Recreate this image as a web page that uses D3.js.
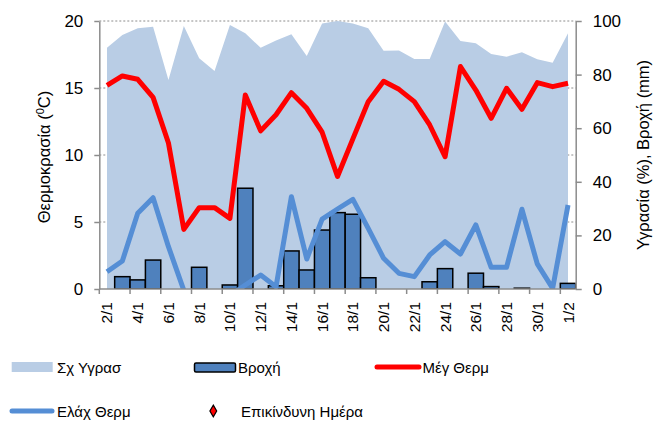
<!DOCTYPE html>
<html><head><meta charset="utf-8">
<script src="https://cdn.jsdelivr.net/npm/d3@7"></script>
<style>
html,body{margin:0;padding:0;background:#fff;}
svg{display:block;font-family:Arial,"Liberation Sans",sans-serif;}
</style></head>
<body><svg id="c" width="654" height="423"></svg>
<script>
const categories = ["2/1","3/1","4/1","5/1","6/1","7/1","8/1","9/1","10/1","11/1","12/1","13/1","14/1","15/1","16/1","17/1","18/1","19/1","20/1","21/1","22/1","23/1","24/1","25/1","26/1","27/1","28/1","29/1","30/1","31/1","1/2"];
const humidity = [90.0,94.8,97.3,97.9,78,98.1,86.1,81.3,98.5,95.4,90.0,92.7,95.1,86.9,99.1,100,99.1,97.3,88.9,89.0,85.8,85.8,99.8,92.5,91.7,87.7,86.7,88.3,85.7,84.4,95.4];
const rain = [0,4.6,3.4,10.8,0,0,8.1,0,1.5,37.6,0,1.2,14.2,7.1,22.0,28.5,27.9,4.2,0,0,0,2.7,7.6,0,5.9,0.9,0,0.3,0,0,2.1];
const tMax = [15.2,15.9,15.65,14.3,10.9,4.45,6.07,6.07,5.27,14.48,11.8,13.0,14.65,13.48,11.7,8.4,11.2,13.98,15.5,14.9,13.98,12.24,9.87,16.6,14.85,12.74,14.98,13.41,15.4,15.1,15.35];
const tMin = [1.29,2.09,5.65,6.81,3.16,-0.1,-1.5,-1.5,-0.5,0.3,1.04,0.17,6.89,2.24,5.22,5.97,6.69,4.53,2.29,1.17,0.92,2.54,3.53,2.61,4.78,1.62,1.62,5.95,1.87,0.05,6.27];
const dangerDays = []; // no dangerous days marked
const leftTicks = [0,5,10,15,20];
const rightTicks = [0,20,40,60,80,100];
const xLabels = categories.filter((d,i)=>i%2===0);

const svg = d3.select("#c");
const L = 99.3, R = 575.7, T = 21, B = 289;
const grey = "#8c8c8c";

const x = d3.scaleBand().domain(categories).range([L,R]).padding(0);
const cx = d => x(d) + x.bandwidth()/2;
const yL = d3.scaleLinear().domain([0,20]).range([B,T]);
const yR = d3.scaleLinear().domain([0,100]).range([B,T]);

svg.append("defs").append("clipPath").attr("id","plot")
  .append("rect").attr("x",L).attr("y",T).attr("width",R-L).attr("height",B-T);

// gridlines
svg.append("g").selectAll("line").data(leftTicks.filter(d=>d>0)).join("line")
  .attr("x1",L).attr("x2",R).attr("y1",d=>yL(d)).attr("y2",d=>yL(d))
  .attr("stroke",grey).attr("stroke-width",1).attr("stroke-dasharray","2,2");

const plot = svg.append("g").attr("clip-path","url(#plot)");

// humidity area
plot.append("path").datum(humidity)
  .attr("fill","#B9CDE5")
  .attr("d", d3.area().x((d,i)=>cx(categories[i])).y0(B).y1(d=>yR(d)));

// rain bars
plot.append("g").selectAll("rect").data(rain.map((v,i)=>({c:categories[i],v}))).join("rect")
  .filter(d=>d.v>0)
  .attr("x",d=>x(d.c)).attr("width",x.bandwidth())
  .attr("y",d=>yR(d.v)).attr("height",d=>B-yR(d.v))
  .attr("fill","#4F81BD").attr("stroke","#000").attr("stroke-width",1.5);

// max temp
plot.append("path").datum(tMax)
  .attr("fill","none").attr("stroke","#FF0000").attr("stroke-width",5).attr("stroke-linejoin","round")
  .attr("d", d3.line().x((d,i)=>cx(categories[i])).y(d=>yL(d)));

// min temp
plot.append("path").datum(tMin)
  .attr("fill","none").attr("stroke","#558ED5").attr("stroke-width",5).attr("stroke-linejoin","round")
  .attr("d", d3.line().x((d,i)=>cx(categories[i])).y(d=>yL(d)));

// dangerous days markers (none)
plot.append("g").selectAll("path").data(dangerDays).join("path")
  .attr("transform",d=>`translate(${cx(d.c)},${yL(d.v)})`)
  .attr("d",d3.symbol(d3.symbolDiamond,50)).attr("fill","red").attr("stroke","#000");

// axes
function style(g){
  g.selectAll(".domain").attr("stroke",grey).attr("stroke-width",1.5);
  g.selectAll(".tick line").attr("stroke",grey).attr("stroke-width",1.5);
  g.selectAll("text").attr("fill","#000");
}
const gl = svg.append("g").attr("transform",`translate(${L},0)`)
  .call(d3.axisLeft(yL).tickValues(leftTicks).tickSize(5).tickPadding(11).tickSizeOuter(0));
gl.selectAll("text").attr("font-size",17).attr("font-family","Arial");
style(gl);

const gr = svg.append("g").attr("transform",`translate(${R},0)`)
  .call(d3.axisRight(yR).tickValues(rightTicks).tickSize(6).tickPadding(11).tickSizeOuter(0));
gr.selectAll("text").attr("font-size",17).attr("font-family","Arial");
style(gr);

// bottom axis: line + ticks between category pairs
const gb = svg.append("g");
gb.append("line").attr("x1",L).attr("x2",R).attr("y1",B).attr("y2",B).attr("stroke",grey).attr("stroke-width",1.5);
gb.selectAll("line.t").data(xLabels).join("line").attr("class","t")
  .attr("x1",d=>x(d)).attr("x2",d=>x(d)).attr("y1",B).attr("y2",B+5)
  .attr("stroke",grey).attr("stroke-width",1.5);
gb.selectAll("text").data(xLabels).join("text")
  .attr("transform",d=>`translate(${cx(d)+5.5},${B+13}) rotate(-90)`)
  .attr("text-anchor","end").attr("font-size",15.5).attr("fill","#000").text(d=>d);

// axis titles
const lt = svg.append("text").attr("transform","translate(50,157) rotate(-90)")
  .attr("text-anchor","middle").attr("font-size",16.5).attr("fill","#000");
lt.append("tspan").text("Θερμοκρασία (");
lt.append("tspan").attr("font-size",11).attr("dy",-6).text("0");
lt.append("tspan").attr("dy",6).text("C)");

svg.append("text").attr("transform","translate(649,155) rotate(-90)")
  .attr("text-anchor","middle").attr("font-size",16.5).attr("fill","#000")
  .text("Υγρασία (%), Βροχή (mm)");

// legend
const lg = svg.append("g").attr("font-size",15).attr("fill","#000");
lg.append("rect").attr("x",11.7).attr("y",362).attr("width",41).attr("height",10).attr("fill","#B9CDE5");
lg.append("text").attr("x",57).attr("y",373).text("Σχ Υγρασ");
lg.append("rect").attr("x",194.5).attr("y",363).attr("width",41).attr("height",9).attr("rx",1.5)
  .attr("fill","#4F81BD").attr("stroke","#000").attr("stroke-width",1.5);
lg.append("text").attr("x",238).attr("y",373).text("Βροχή");
lg.append("line").attr("x1",377).attr("x2",419).attr("y1",367).attr("y2",367)
  .attr("stroke","#FF0000").attr("stroke-width",5).attr("stroke-linecap","round");
lg.append("text").attr("x",422.5).attr("y",373).text("Μέγ Θερμ");
lg.append("line").attr("x1",12).attr("x2",52).attr("y1",411).attr("y2",411)
  .attr("stroke","#558ED5").attr("stroke-width",5).attr("stroke-linecap","round");
lg.append("text").attr("x",57).attr("y",417).text("Ελάχ Θερμ");
lg.append("path").attr("transform","translate(213.3,411)").attr("d",d3.symbol(d3.symbolDiamond,40))
  .attr("fill","#FF0000").attr("stroke","#000").attr("stroke-width",1.2);
lg.append("text").attr("x",241).attr("y",417).text("Επικίνδυνη Ημέρα");
</script></body></html>
